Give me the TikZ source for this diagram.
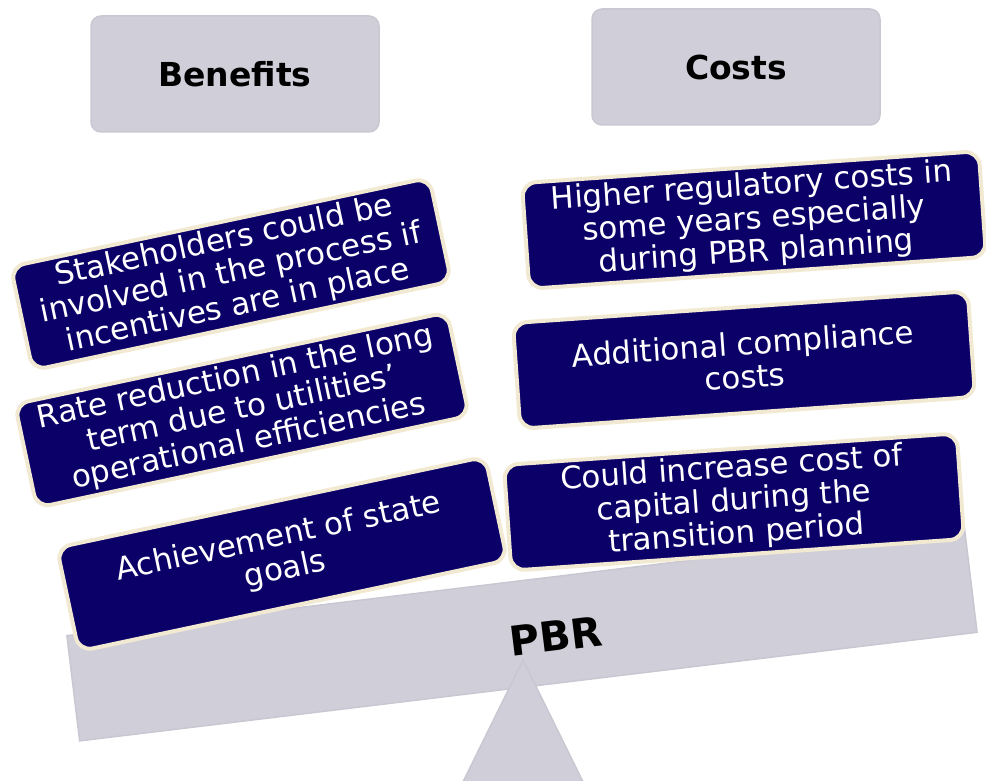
\documentclass[tikz,border=0pt]{standalone}
\usepackage{fontspec}
\setmainfont{DejaVu Sans}
\definecolor{PBRnavy}{HTML}{0B0068}
\definecolor{PBRcream}{HTML}{F2E9D3}
\definecolor{PBRgray}{HTML}{D0CFD9}
\definecolor{PBRgrayline}{HTML}{C9C8D2}
\usetikzlibrary{positioning}

\begin{document}
\begin{tikzpicture}[x=1pt, y=-1pt,
      head/.style={rectangle, rounded corners=10pt, draw=PBRgrayline, line width=1.5pt,
                   fill=PBRgray, minimum width=288pt, minimum height=116pt,
                   font=\fontsize{33}{36}\selectfont\bfseries},
      item/.style={rectangle, rounded corners=14pt, draw=PBRcream, line width=4pt,
                   fill=PBRnavy, text=white, align=center, inner sep=2pt,
                   minimum height=106pt, font=\fontsize{31}{33}\selectfont},
      lean/.style={rotate=12},
      tilt/.style={rotate=4}]
      \useasboundingbox (0,0) rectangle (986,781);
      % Headers
      \node[head] (ben) at (235,74) {Benefits};
      \node[head] (cost) at (736,67) {Costs};
      % Scale: beam and fulcrum
      \node[rectangle, draw=PBRgrayline, line width=1.5pt, fill=PBRgray, rotate=6.9,
            minimum width=904pt, minimum height=106pt, inner sep=0pt] (beam) at (522,634) {};
      \coordinate (apex) at (523,660);
      \draw[draw=PBRgrayline, line width=1.5pt, fill=PBRgray] (apex) -- (458,792) -- (588,792) -- cycle;
      \node[rotate=7, font=\fontsize{41}{44}\selectfont\bfseries] (pbr) at (556,636) {PBR};
      % Benefits side
      \node[item, lean, minimum width=428pt] (stake) at (231,274)
            {Stakeholders could be\\involved in the process if\\incentives are in place};
      \node[item, lean, minimum width=442pt] (rate) at (242,410)
            {Rate reduction in the long\\term due to utilities’\\operational efficiencies};
      \node[item, lean, minimum width=438pt] (goals) at (282,554)
            {Achievement of state\\goals};
      % Costs side
      \node[item, tilt, minimum width=458pt] (regul) at (754,220)
            {Higher regulatory costs in\\some years especially\\during PBR planning};
      \node[item, tilt, minimum width=456pt] (comply) at (744,360)
            {Additional compliance\\costs};
      \node[item, tilt, minimum width=454pt] (capital) at (734,502)
            {Could increase cost of\\capital during the\\transition period};
   \end{tikzpicture}
\end{document}
